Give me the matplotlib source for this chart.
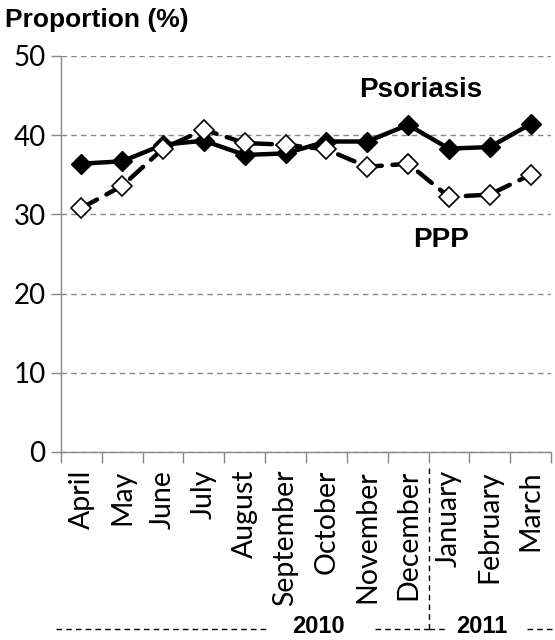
import matplotlib
matplotlib.use('Agg')
import matplotlib.pyplot as plt
from matplotlib.lines import Line2D

months = ['April', 'May', 'June', 'July', 'August', 'September', 'October',
          'November', 'December', 'January', 'February', 'March']
psoriasis = [36.4, 36.7, 38.8, 39.3, 37.5, 37.7, 39.2, 39.2, 41.3, 38.3, 38.5, 41.4]
ppp = [30.8, 33.6, 38.3, 40.7, 39.0, 38.8, 38.2, 36.0, 36.4, 32.2, 32.5, 35.0]
yticks = [0, 10, 20, 30, 40, 50]

plt.rcParams['font.family'] = ['Lato', 'DejaVu Sans']
bold = ['Liberation Sans', 'DejaVu Sans']

fig = plt.figure(figsize=(5.55, 6.4), dpi=100)
ax = fig.add_axes([0.1099, 0.294, 0.8829, 0.6185])

x = list(range(len(months)))
ax.plot(x, psoriasis, color='black', lw=3.2, marker='D', markersize=10,
        markerfacecolor='black', markeredgecolor='black', zorder=3)
ax.plot(x, ppp, color='black', lw=3.2, linestyle=(0, (4.0, 2.4)),
        dash_capstyle='round', marker='D', markersize=10,
        markerfacecolor='white', markeredgecolor='black', markeredgewidth=1.2,
        zorder=4)

ax.set_xlim(-0.5, len(months) - 0.5)
ax.set_ylim(0, 50)
ax.set_yticks(yticks)
ax.set_yticklabels([str(v) for v in yticks], fontsize=20)
ax.yaxis.grid(True, color='#888888', linestyle=(0, (4, 3)), lw=1)
ax.set_axisbelow(True)

ax.set_xticks(x)
ax.set_xticklabels(months, rotation=90, fontsize=20.5)
ax.set_xticks([i - 0.5 for i in range(len(months) + 1)], minor=True)
ax.tick_params(axis='x', which='major', length=0, pad=13)
ax.tick_params(axis='x', which='minor', length=8, color='#888888', width=1)
ax.tick_params(axis='y', length=7, color='#888888', width=1, pad=4)

for s in ['top', 'right']:
    ax.spines[s].set_visible(False)
for s in ['left', 'bottom']:
    ax.spines[s].set_color('#888888')
    ax.spines[s].set_linewidth(1)

fig.text(5 / 555, 1 - 20 / 640, 'Proportion (%)', fontsize=19,
         fontweight='bold', family=bold, va='center', ha='left')
ax.text(8.3, 45.7, 'Psoriasis', fontsize=20, fontweight='bold', family=bold,
        ha='center', va='center')
ax.text(8.8, 26.8, 'PPP', fontsize=20, fontweight='bold', family=bold,
        ha='center', va='center')

# year brackets under the month labels
tr = ax.get_xaxis_transform()
yl = -0.448
ybase = -0.457
dash = (0, (4, 3))
for x0, x1 in [(-0.62, 4.6), (7.2, 8.5), (8.5, 8.9), (10.9, 11.75)]:
    ax.add_line(Line2D([x0, x1], [yl, yl], transform=tr, color='black',
                       lw=1, linestyle=dash, clip_on=False))
ax.add_line(Line2D([8.5, 8.5], [-0.04, yl], transform=tr, color='black',
                   lw=1, linestyle=dash, clip_on=False))
ax.text(5.8, ybase, '2010', transform=tr, fontsize=17, fontweight='bold',
        family=bold, ha='center', va='baseline')
ax.text(9.8, ybase, '2011', transform=tr, fontsize=17, fontweight='bold',
        family=bold, ha='center', va='baseline')

fig.savefig('out.png', dpi=100)
